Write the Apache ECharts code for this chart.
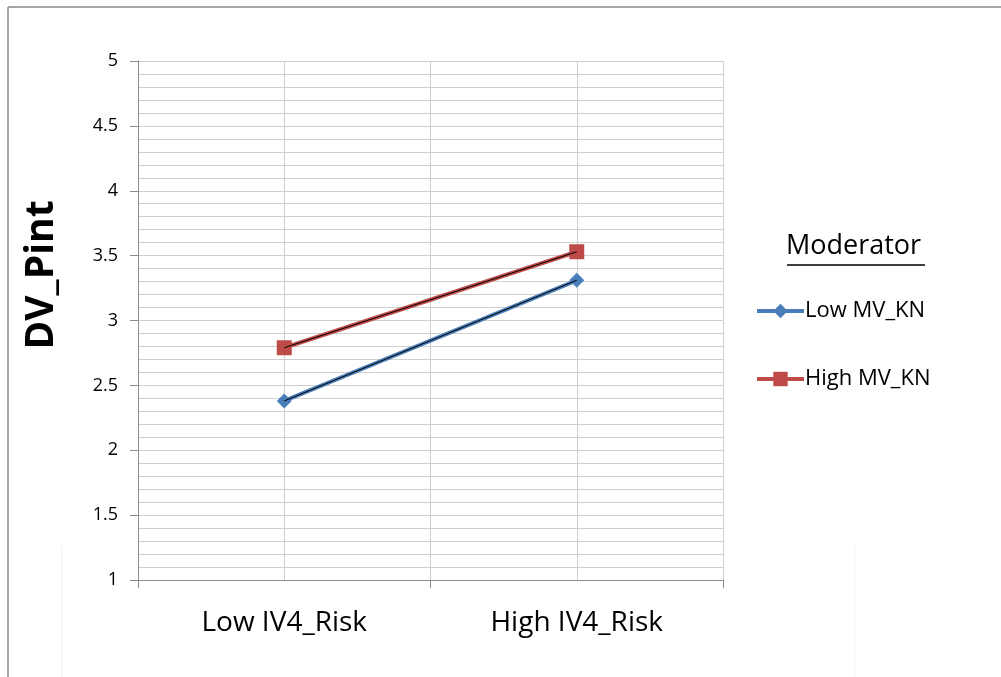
<!DOCTYPE html>
<html>
<head>
<meta charset="utf-8">
<script src="https://cdn.jsdelivr.net/npm/echarts@6/dist/echarts.min.js"></script>
<style>
html,body{margin:0;padding:0;background:#fff;}
#chart{width:1001px;height:677px;}
</style>
</head>
<body>
<div id="chart"></div>
<script>
const categories = ['Low IV4_Risk', 'High IV4_Risk'];
const lowMV = [2.38, 3.31];
const highMV = [2.79, 3.53];
const seriesNames = ['Low MV_KN', 'High MV_KN'];
const yTicks = {min: 1, max: 5, interval: 0.5};
const legendTitle = 'Moderator';
const yName = 'DV_Pint';

const FONT = '"Open Sans", "Liberation Sans", sans-serif';
const BLUE = '#4A7EBB';
const RED = '#BE4B48';
const GRID = '#CFCFCF';
const AXIS = '#8C8C8C';

const chart = echarts.init(document.getElementById('chart'), null, {renderer: 'canvas'});
chart.setOption({
  backgroundColor: '#ffffff',
  animation: false,
  grid: {left: 138, right: 278, top: 61, bottom: 97},
  xAxis: [
    {
      type: 'category',
      data: categories,
      boundaryGap: true,
      axisLine: {lineStyle: {color: AXIS, width: 1}},
      axisTick: {show: true, length: 8, lineStyle: {color: AXIS}},
      axisLabel: {fontFamily: FONT, fontSize: 28, color: '#000', margin: 29},
      splitLine: {show: false}
    },
    {
      type: 'value',
      min: 0, max: 4, interval: 1,
      position: 'bottom',
      axisLine: {show: false},
      axisTick: {show: false},
      axisLabel: {show: false},
      splitLine: {show: true, lineStyle: {color: GRID, width: 1}}
    }
  ],
  yAxis: {
    type: 'value',
    min: yTicks.min, max: yTicks.max, interval: yTicks.interval,
    axisLine: {show: true, lineStyle: {color: AXIS, width: 1}},
    axisTick: {show: true, length: 8, lineStyle: {color: AXIS}},
    axisLabel: {fontFamily: FONT, fontSize: 18, color: '#000', margin: 20},
    splitLine: {show: true, lineStyle: {color: GRID, width: 1}},
    minorTick: {show: false, splitNumber: 5},
    minorSplitLine: {show: true, lineStyle: {color: GRID, width: 1}}
  },
  legend: {
    data: seriesNames,
    orient: 'vertical',
    left: 755,
    top: 300,
    padding: 0,
    itemWidth: 47,
    itemHeight: 18,
    itemGap: 46,
    lineStyle: {width: 4},
    textStyle: {fontFamily: FONT, fontSize: 22, color: '#000', padding: [0, 0, 0, -4]}
  },
  series: [
    {
      name: seriesNames[0], type: 'line', data: lowMV, xAxisIndex: 0,
      symbol: 'diamond', symbolSize: 15,
      lineStyle: {color: BLUE, width: 4},
      itemStyle: {color: BLUE},
      z: 3
    },
    {
      name: seriesNames[0] + ' core', type: 'line', data: lowMV, xAxisIndex: 0,
      symbol: 'none', lineStyle: {color: '#000', width: 1}, silent: true, z: 5
    },
    {
      name: seriesNames[1], type: 'line', data: highMV, xAxisIndex: 0,
      symbol: 'rect', symbolSize: 15,
      lineStyle: {color: RED, width: 4},
      itemStyle: {color: RED},
      z: 3
    },
    {
      name: seriesNames[1] + ' core', type: 'line', data: highMV, xAxisIndex: 0,
      symbol: 'none', lineStyle: {color: '#000', width: 1}, silent: true, z: 5
    }
  ],
  graphic: [
    {type: 'line', shape: {x1: 8, y1: 7, x2: 1001, y2: 7}, style: {stroke: '#8a8a8a', lineWidth: 1.5}},
    {type: 'line', shape: {x1: 8, y1: 7, x2: 8, y2: 677}, style: {stroke: '#8a8a8a', lineWidth: 1.5}},
    {type: 'line', shape: {x1: 62, y1: 545, x2: 62, y2: 677}, style: {stroke: '#f2f2f2', lineWidth: 1}},
    {type: 'line', shape: {x1: 855, y1: 545, x2: 855, y2: 677}, style: {stroke: '#f2f2f2', lineWidth: 1}},
    {type: 'text', x: 42, y: 275, rotation: Math.PI / 2,
     style: {text: yName, font: 'bold 39px ' + FONT, fill: '#000', align: 'center', verticalAlign: 'middle'}},
    {type: 'text', left: 786, top: 233, style: {text: legendTitle, font: '27px ' + FONT, fill: '#000'}},
    {type: 'line', shape: {x1: 787, y1: 265, x2: 925, y2: 265}, style: {stroke: '#000', lineWidth: 1.5}}
  ]
});
</script>
</body>
</html>
